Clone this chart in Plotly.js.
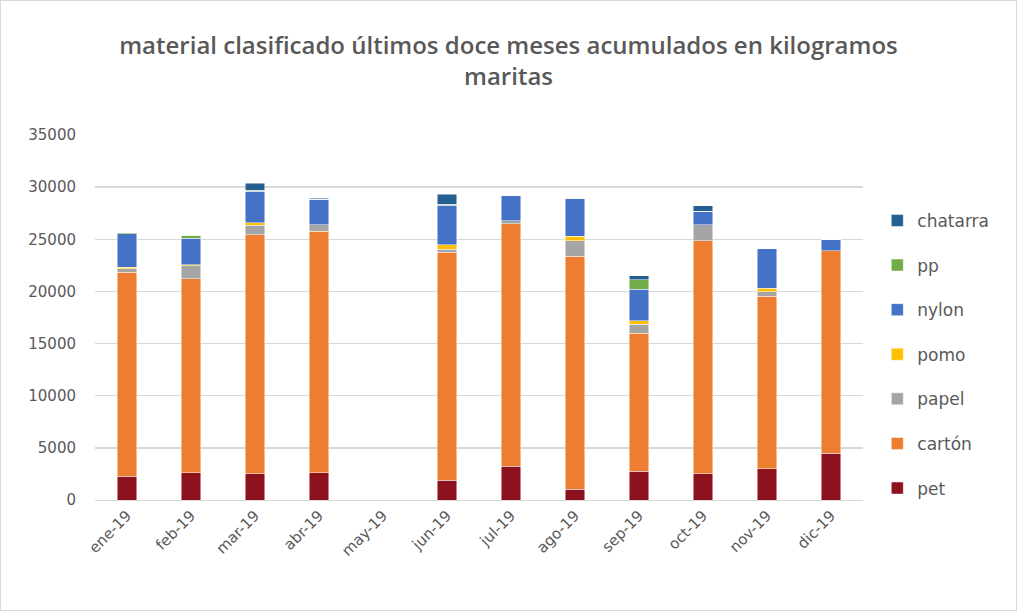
<!DOCTYPE html>
<html>
<head>
<meta charset="utf-8">
<script src="https://cdn.plot.ly/plotly-3.0.1.min.js"></script>
<style>
  html, body { margin: 0; padding: 0; background: #ffffff; }
  #wrap { position: relative; width: 1017px; height: 613px; }
  #chart { width: 1017px; height: 613px; }
  #frame { position: absolute; left: 0; top: 0; width: 1015px; height: 609px; border: 1px solid #d9d9d9; pointer-events: none; }
</style>
</head>
<body>
<div id="wrap">
  <div id="chart"></div>
  <div id="frame"></div>
</div>
<script>
const months = ["ene-19","feb-19","mar-19","abr-19","may-19","jun-19","jul-19","ago-19","sep-19","oct-19","nov-19","dic-19"];

const pet      = [2280, 2600, 2500, 2600, null, 1900, 3230, 1030, 2750, 2500, 2980, 4480];
const carton   = [19570, 18620, 22920, 23160, null, 21860, 23240, 22320, 13250, 22350, 16580, 19440];
const papel    = [325, 1240, 950, 640, null, 290, 315, 1530, 865, 1555, 420, 0];
const pomo     = [150, 90, 220, 0, null, 450, 0, 410, 320, 0, 315, 0];
const nylon    = [3220, 2540, 3000, 2450, null, 3750, 2450, 3665, 3045, 1270, 3815, 1050];
const pp       = [100, 290, 90, 0, null, 100, 0, 0, 895, 0, 0, 0];
const chatarra = [0, 0, 700, 90, null, 990, 0, 0, 385, 545, 0, 0];

const seriesNames  = ["pet", "cartón", "papel", "pomo", "nylon", "pp", "chatarra"];
const seriesValues = [pet, carton, papel, pomo, nylon, pp, chatarra];
const seriesColors = ["#8C121D", "#ED7D31", "#A5A5A5", "#FFC000", "#4472C4", "#70AD47", "#255E91"];

const traces = seriesNames.map((name, i) => ({
  type: "bar",
  name: name,
  x: months,
  y: seriesValues[i],
  legendgroup: name,
  legendrank: 1000 - i,
  marker: { color: seriesColors[i], line: { color: "rgba(255,255,255,0.8)", width: 0.6 } },
  hoverinfo: "x+y+name"
}));

const layout = {
  width: 1017,
  height: 613,
  paper_bgcolor: "#ffffff",
  plot_bgcolor: "#ffffff",
  barmode: "stack",
  bargap: 0.69,
  margin: { l: 95, r: 154, t: 134.5, b: 112.5 },
  font: { family: "DejaVu Sans, sans-serif", color: "#595959" },
  title: {
    text: "material clasificado últimos doce meses acumulados en kilogramos<br>maritas",
    font: { family: "Open Sans, sans-serif", size: 24, color: "#595959", weight: 600 },
    x: 0.5, xref: "container", xanchor: "center",
    y: 0.9127, yref: "container", yanchor: "middle"
  },
  xaxis: {
    type: "category",
    tickangle: -45,
    tickfont: { size: 15, color: "#595959" },
    showline: true, linecolor: "#d9d9d9", linewidth: 1,
    ticks: "", showgrid: false,
    fixedrange: true
  },
  yaxis: {
    range: [0, 35000],
    tickvals: [0, 5000, 10000, 15000, 20000, 25000, 30000, 35000],
    ticktext: ["0", "5000", "10000", "15000", "20000", "25000", "30000", "35000"],
    tickfont: { size: 15, color: "#595959" },
    showgrid: true, gridcolor: "#d9d9d9", gridwidth: 1.3,
    zeroline: false, showline: false,
    ticklabelstandoff: 18,
    fixedrange: true
  },
  showlegend: true,
  legend: {
    traceorder: "grouped",
    tracegroupgap: 19.5,
    font: { family: "DejaVu Sans, sans-serif", size: 17, color: "#595959" },
    x: 1.0186, xanchor: "left",
    y: 0.814, yanchor: "top",
    bgcolor: "rgba(0,0,0,0)",
    itemwidth: 30
  }
};

Plotly.newPlot("chart", traces, layout, { displayModeBar: false, staticPlot: true });
</script>
</body>
</html>
